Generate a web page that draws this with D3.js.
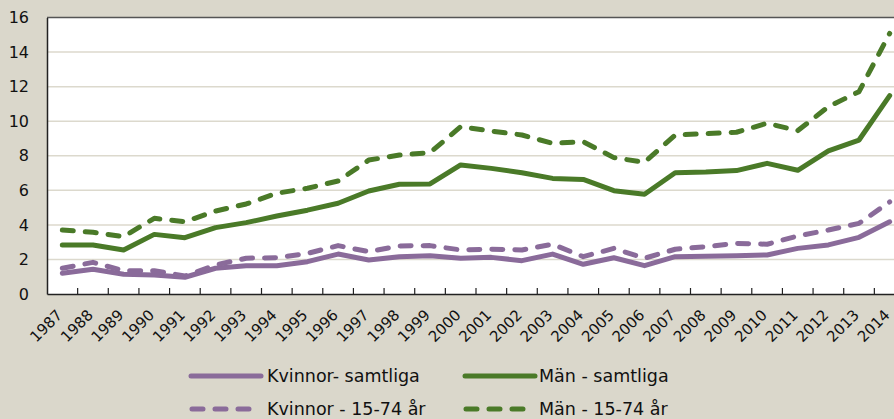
<!DOCTYPE html>
<html>
<head>
<meta charset="utf-8">
<script src="https://cdn.jsdelivr.net/npm/d3@7"></script>
<style>
html,body{margin:0;padding:0;background:#dad7cb;}
svg{display:block;}
text{font-family:"DejaVu Sans",sans-serif;fill:#111;}
</style>
</head>
<body>
<svg id="chart" width="894" height="419"></svg>
<script>
const years = [1987,1988,1989,1990,1991,1992,1993,1994,1995,1996,1997,1998,1999,2000,2001,2002,2003,2004,2005,2006,2007,2008,2009,2010,2011,2012,2013,2014];
const kvinnorSamtliga = [1.2,1.43,1.14,1.1,0.97,1.49,1.64,1.64,1.87,2.31,1.97,2.16,2.22,2.07,2.12,1.93,2.31,1.72,2.1,1.64,2.16,2.18,2.22,2.26,2.64,2.84,3.28,4.18];
const manSamtliga = [2.84,2.84,2.55,3.45,3.26,3.84,4.13,4.51,4.85,5.25,5.96,6.35,6.37,7.47,7.27,7.02,6.69,6.63,5.98,5.77,7.02,7.06,7.14,7.56,7.16,8.28,8.91,11.48];
const kvinnor1574 = [1.49,1.83,1.35,1.35,1.04,1.68,2.07,2.1,2.35,2.8,2.45,2.78,2.8,2.55,2.59,2.55,2.88,2.16,2.64,2.07,2.59,2.74,2.93,2.88,3.36,3.7,4.09,5.33];
const man1574 = [3.7,3.57,3.32,4.38,4.18,4.8,5.21,5.83,6.12,6.54,7.75,8.04,8.18,9.68,9.43,9.2,8.72,8.81,7.89,7.62,9.2,9.28,9.36,9.88,9.45,10.84,11.71,15.08];
const yTicks = [0,2,4,6,8,10,12,14,16];

const purple = "#8a6b9a", green = "#4a7a28";
const series = [
  {name:"Kvinnor- samtliga", values:kvinnorSamtliga, color:purple, dash:null},
  {name:"Män - samtliga", values:manSamtliga, color:green, dash:null},
  {name:"Kvinnor - 15-74 år", values:kvinnor1574, color:purple, dash:"11,12"},
  {name:"Män - 15-74 år", values:man1574, color:green, dash:"11,12"}
];

const svg = d3.select("#chart");
const pLeft = 47, pRight = 905, pTop = 17.5, pBottom = 294;
const x = d3.scaleBand().domain(years).range([pLeft, pRight]).padding(0);
const y = d3.scaleLinear().domain([0,16]).range([pBottom, pTop]);
const cx = d => x(d) + x.bandwidth()/2;

// plot background
svg.append("rect").attr("x",pLeft).attr("y",pTop).attr("width",pRight-pLeft).attr("height",pBottom-pTop).attr("fill","#fff");

// gridlines
svg.append("g").selectAll("line").data(yTicks.filter(t=>t>0 && t<16)).join("line")
  .attr("x1",pLeft).attr("x2",pRight).attr("y1",d=>y(d)).attr("y2",d=>y(d))
  .attr("stroke","#dcd9cd").attr("stroke-width",1.5);

// frame top
svg.append("line").attr("x1",pLeft).attr("x2",pRight).attr("y1",pTop).attr("y2",pTop).attr("stroke","#555").attr("stroke-width",1.5);

// y axis
const yAxis = d3.axisLeft(y).tickValues(yTicks).tickSize(0).tickPadding(18);
const gy = svg.append("g").attr("transform",`translate(${pLeft},0)`).call(yAxis);
gy.select(".domain").attr("stroke","#222").attr("stroke-width",1.5);
gy.selectAll("text").attr("font-size","16px").attr("font-family","DejaVu Sans").attr("fill","#111");

// x axis
const xAxis = d3.axisBottom(x).tickSize(0).tickFormat(d=>d);
const gx = svg.append("g").attr("transform",`translate(0,${pBottom})`).call(xAxis);
gx.select(".domain").attr("stroke","#222").attr("stroke-width",1.5);
gx.selectAll(".tick text")
  .attr("font-size","15px").attr("font-family","DejaVu Sans").attr("fill","#111")
  .attr("text-anchor","end")
  .attr("transform","translate(1,22) rotate(-45)")
  .attr("x",0).attr("y",0).attr("dy",0);
// inner ticks at category boundaries
svg.append("g").selectAll("line").data(years.slice(1)).join("line")
  .attr("x1",d=>x(d)).attr("x2",d=>x(d)).attr("y1",pBottom).attr("y2",pBottom-6)
  .attr("stroke","#222").attr("stroke-width",1.2);

// lines
const line = d3.line().x((d,i)=>cx(years[i])).y(d=>y(d));
svg.append("g").selectAll("path").data([series[0],series[2],series[1],series[3]]).join("path")
  .attr("d",d=>line(d.values))
  .attr("fill","none").attr("stroke",d=>d.color).attr("stroke-width",5)
  .attr("stroke-linecap","round").attr("stroke-linejoin","round")
  .attr("stroke-dasharray",d=>d.dash);

// legend
const legPos = [[189,376],[463,376],[189,409],[463,409]];
const lg = svg.append("g");
series.forEach((s,i)=>{
  const [lx,ly] = legPos[i];
  const g = lg.append("g").attr("transform",`translate(${lx},${ly})`);
  if(s.dash){
    g.append("path").attr("d","M3,0H64").attr("stroke",s.color).attr("stroke-width",5)
      .attr("stroke-linecap","round").attr("stroke-dasharray","11,12");
  } else {
    g.append("line").attr("x1",2).attr("x2",72).attr("stroke",s.color).attr("stroke-width",5).attr("stroke-linecap","round");
  }
  g.append("text").attr("x",i%2===0?78:76).attr("y",0).attr("dy","0.36em")
    .attr("font-size","17.5px").text(s.name);
});
</script>
</body>
</html>
